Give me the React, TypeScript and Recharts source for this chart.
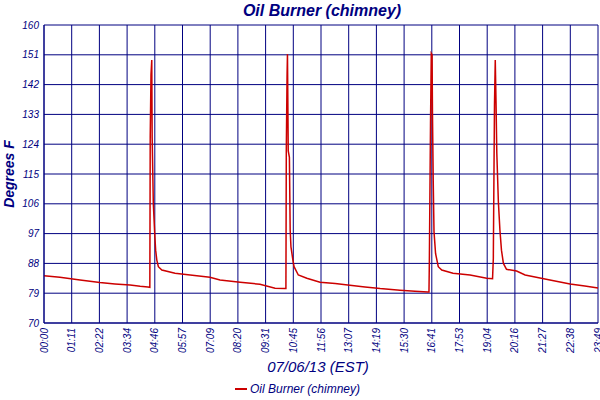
import React from "react";
import { LineChart, Line, XAxis, YAxis, CartesianGrid } from "recharts";

const NAVY = "#000080";
const RED = "#cc0000";
const FONT = "'Liberation Sans', Arial, sans-serif";

// minutes after midnight
const MINUTES = [
  0, 41, 93, 144, 183, 222, 248, 268, 273, 274, 276, 278, 279, 282, 286, 288,
  291, 295, 304, 338, 377, 428, 454, 506, 557, 596, 622, 624, 625, 627, 628,
  630, 633, 635, 637, 642, 645, 656, 678, 712, 751, 789, 828, 867, 918, 957,
  990, 993, 994, 997, 999, 1001, 1002, 1004, 1006, 1010, 1017, 1026, 1055,
  1099, 1142, 1157, 1159, 1162, 1164, 1166, 1168, 1172, 1176, 1180, 1185,
  1193, 1219, 1241, 1305, 1357, 1395, 1429,
];
const TEMPS = [
  84.3, 83.8, 83.0, 82.2, 81.8, 81.5, 81.1, 80.9, 80.8, 126.3, 145, 149.4,
  126, 106, 96, 92, 89, 87, 86, 85, 84.5, 83.8, 83.0, 82.3, 81.7, 80.5, 80.4,
  80.4, 122, 145, 151.2, 122, 120, 98, 93, 89, 87, 84.5, 83.5, 82.3, 81.9,
  81.4, 80.9, 80.4, 79.9, 79.6, 79.4, 79.4, 88.5, 130.4, 151.4, 151, 133.8,
  112.7, 97.6, 91, 87, 86, 85, 84.5, 83.5, 83.4, 89.5, 135.8, 149.4, 136.5,
  121.3, 106.6, 98.1, 92, 88, 86.2, 85.7, 84.5, 83, 81.8, 81.2, 80.6,
];

const X_TICK_LABELS = [
  "00:00", "01:11", "02:22", "03:34", "04:46", "05:57", "07:09", "08:20",
  "09:31", "10:45", "11:56", "13:07", "14:19", "15:30", "16:41", "17:53",
  "19:04", "20:16", "21:27", "22:38", "23:49",
];
const Y_TICKS = [70, 79, 88, 97, 106, 115, 124, 133, 142, 151, 160];

const X_END = 1429;
const X_STEP = X_END / (X_TICK_LABELS.length - 1);
const X_TICKS = X_TICK_LABELS.map((_, i) => i * X_STEP);

const data = MINUTES.map((m, i) => ({ m, temp: TEMPS[i] }));

const XTick = (props: any) => {
  const { x, y, payload } = props;
  const i = Math.round(payload.value / X_STEP);
  return (
    <text
      x={x}
      y={y}
      transform={`rotate(-90, ${x}, ${y})`}
      textAnchor="end"
      dy="0.35em"
      fill={NAVY}
      fontSize={10}
      fontStyle="italic"
      fontFamily={FONT}
    >
      {X_TICK_LABELS[i]}
    </text>
  );
};

export default function App() {
  return (
    <div style={{ position: "relative", width: 600, height: 400, background: "#fff" }}>
      <style>{"body{margin:0}"}</style>
      <LineChart
        width={600}
        height={400}
        data={data}
        margin={{ top: 25, right: 2, left: 4, bottom: 33 }}
      >
        <CartesianGrid stroke={NAVY} strokeWidth={1} />
        <XAxis
          dataKey="m"
          type="number"
          domain={[0, X_END]}
          ticks={X_TICKS}
          interval={0}
          height={44}
          tickSize={0}
          tickMargin={5}
          axisLine={{ stroke: NAVY }}
          tick={<XTick />}
        />
        <YAxis
          type="number"
          domain={[70, 160]}
          ticks={Y_TICKS}
          interval={0}
          width={40}
          tickSize={0}
          tickMargin={5}
          axisLine={{ stroke: NAVY }}
          tick={{ fill: NAVY, fontSize: 10, fontStyle: "italic", fontFamily: FONT }}
        />
        <Line
          dataKey="temp"
          type="linear"
          stroke={RED}
          strokeWidth={1.5}
          dot={false}
          isAnimationActive={false}
        />
      </LineChart>
      <svg
        width={600}
        height={400}
        style={{ position: "absolute", left: 0, top: 0, pointerEvents: "none" }}
      >
        <text
          x={322}
          y={16}
          textAnchor="middle"
          fill={NAVY}
          fontSize={16}
          fontWeight="bold"
          fontStyle="italic"
          fontFamily={FONT}
        >
          Oil Burner (chimney)
        </text>
        <text
          transform="rotate(-90, 14, 174)"
          x={14}
          y={174}
          textAnchor="middle"
          fill={NAVY}
          fontSize={14}
          fontWeight="bold"
          fontStyle="italic"
          fontFamily={FONT}
        >
          Degrees F
        </text>
        <text
          x={318}
          y={372}
          textAnchor="middle"
          fill={NAVY}
          fontSize={15}
          fontStyle="italic"
          fontFamily={FONT}
        >
          07/06/13 (EST)
        </text>
        <line x1={235} y1={389} x2={247} y2={389} stroke={RED} strokeWidth={2} />
        <text
          x={250}
          y={393}
          fill={NAVY}
          fontSize={12}
          fontStyle="italic"
          fontFamily={FONT}
        >
          Oil Burner (chimney)
        </text>
      </svg>
    </div>
  );
}
